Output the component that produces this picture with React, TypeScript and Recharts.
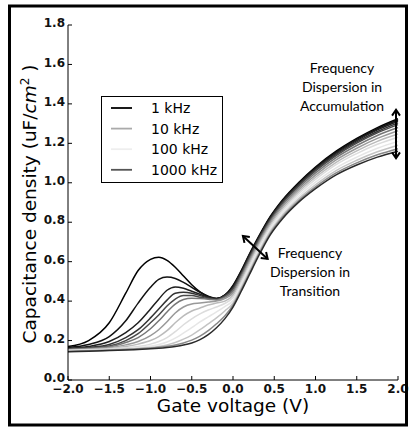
import React from 'react';
import { LineChart, Line, XAxis, YAxis, ReferenceLine } from 'recharts';

// gate voltage grid (V)
const X = [-2.0, -1.75, -1.5, -1.3, -1.15, -1.0, -0.9, -0.8, -0.7, -0.6, -0.5, -0.4, -0.3, -0.2, -0.1, 0.0, 0.1, 0.2, 0.3, 0.45, 0.6, 0.8, 1.0, 1.25, 1.5, 1.75, 2.0];

// capacitance density (uF/cm^2), one array per measurement frequency
const f1k = [0.17, 0.2, 0.29, 0.44, 0.555, 0.612, 0.623, 0.607, 0.572, 0.527, 0.483, 0.447, 0.423, 0.413, 0.43, 0.48, 0.555, 0.64, 0.719, 0.828, 0.913, 1.003, 1.08, 1.16, 1.225, 1.28, 1.325];
const f1_8k = [0.165, 0.18, 0.22, 0.3, 0.39, 0.47, 0.51, 0.522, 0.515, 0.495, 0.47, 0.445, 0.425, 0.413, 0.43, 0.476, 0.551, 0.636, 0.715, 0.824, 0.909, 0.999, 1.076, 1.155, 1.22, 1.274, 1.318];
const f3_2k = [0.16, 0.17, 0.195, 0.24, 0.29, 0.36, 0.41, 0.455, 0.472, 0.465, 0.45, 0.435, 0.42, 0.412, 0.428, 0.471, 0.547, 0.632, 0.711, 0.821, 0.905, 0.995, 1.071, 1.15, 1.214, 1.268, 1.312];
const f5_6k = [0.158, 0.165, 0.18, 0.215, 0.255, 0.315, 0.36, 0.405, 0.44, 0.445, 0.44, 0.428, 0.417, 0.41, 0.426, 0.466, 0.541, 0.626, 0.707, 0.816, 0.901, 0.99, 1.066, 1.144, 1.207, 1.26, 1.304];
const f10k = [0.156, 0.162, 0.172, 0.2, 0.235, 0.29, 0.33, 0.375, 0.41, 0.428, 0.428, 0.42, 0.413, 0.408, 0.424, 0.46, 0.536, 0.621, 0.702, 0.811, 0.896, 0.985, 1.06, 1.138, 1.201, 1.253, 1.295];
const f18k = [0.155, 0.16, 0.168, 0.19, 0.215, 0.26, 0.3, 0.345, 0.385, 0.408, 0.415, 0.413, 0.41, 0.406, 0.42, 0.45, 0.527, 0.612, 0.693, 0.803, 0.887, 0.976, 1.05, 1.128, 1.189, 1.24, 1.28];
const f32k = [0.153, 0.157, 0.163, 0.178, 0.195, 0.225, 0.255, 0.295, 0.34, 0.37, 0.385, 0.39, 0.395, 0.4, 0.413, 0.44, 0.516, 0.601, 0.684, 0.794, 0.878, 0.966, 1.039, 1.116, 1.175, 1.225, 1.264];
const f56k = [0.152, 0.155, 0.16, 0.17, 0.182, 0.2, 0.22, 0.25, 0.29, 0.325, 0.35, 0.365, 0.38, 0.39, 0.4, 0.43, 0.506, 0.591, 0.674, 0.784, 0.868, 0.956, 1.028, 1.104, 1.162, 1.21, 1.247];
const f100k = [0.15, 0.153, 0.157, 0.163, 0.17, 0.182, 0.195, 0.215, 0.245, 0.28, 0.31, 0.335, 0.355, 0.37, 0.388, 0.418, 0.495, 0.58, 0.665, 0.775, 0.859, 0.946, 1.017, 1.092, 1.148, 1.195, 1.231];
const f180k = [0.148, 0.151, 0.155, 0.159, 0.164, 0.172, 0.18, 0.193, 0.212, 0.238, 0.265, 0.295, 0.32, 0.345, 0.372, 0.403, 0.482, 0.567, 0.649, 0.763, 0.847, 0.933, 1.003, 1.076, 1.13, 1.175, 1.21];
const f320k = [0.146, 0.149, 0.153, 0.157, 0.16, 0.165, 0.17, 0.178, 0.19, 0.207, 0.228, 0.255, 0.285, 0.315, 0.35, 0.39, 0.469, 0.554, 0.637, 0.752, 0.835, 0.921, 0.99, 1.062, 1.114, 1.157, 1.19];
const f560k = [0.145, 0.148, 0.151, 0.155, 0.158, 0.162, 0.166, 0.171, 0.178, 0.188, 0.202, 0.222, 0.25, 0.285, 0.325, 0.379, 0.458, 0.543, 0.628, 0.742, 0.826, 0.911, 0.979, 1.05, 1.101, 1.142, 1.173];
const f1000k = [0.143, 0.146, 0.149, 0.152, 0.155, 0.158, 0.161, 0.165, 0.17, 0.177, 0.188, 0.205, 0.23, 0.265, 0.31, 0.37, 0.45, 0.535, 0.62, 0.735, 0.818, 0.903, 0.97, 1.04, 1.09, 1.13, 1.16];

const SERIES = [
  { key: 'f1k', values: f1k, color: '#000000' },
  { key: 'f1_8k', values: f1_8k, color: '#111111' },
  { key: 'f3_2k', values: f3_2k, color: '#1e1e1e' },
  { key: 'f5_6k', values: f5_6k, color: '#333333' },
  { key: 'f10k', values: f10k, color: '#4a4a4a' },
  { key: 'f18k', values: f18k, color: '#777777' },
  { key: 'f32k', values: f32k, color: '#999999' },
  { key: 'f56k', values: f56k, color: '#bbbbbb' },
  { key: 'f100k', values: f100k, color: '#dcdcdc' },
  { key: 'f180k', values: f180k, color: '#e6e6e6' },
  { key: 'f320k', values: f320k, color: '#c4c4c4' },
  { key: 'f560k', values: f560k, color: '#888888' },
  { key: 'f1000k', values: f1000k, color: '#2a2a2a' },
];

const X_TICKS = [-2, -1.5, -1, -0.5, 0, 0.5, 1, 1.5, 2];
const Y_TICKS = [0, 0.2, 0.4, 0.6, 0.8, 1.0, 1.2, 1.4, 1.6, 1.8];

const LEGEND_LABELS = ['1 kHz', '10 kHz', '100 kHz', '1000 kHz'];
const LEGEND_COLORS = ['#000000', '#aaaaaa', '#eeeeee', '#555555'];

const rows = X.map((x, i) => {
  const r: any = { x };
  SERIES.forEach(s => { r[s.key] = s.values[i]; });
  return r;
});

const fmt = (v: number) => (v < 0 ? '\u2212' : '') + Math.abs(v).toFixed(1);

function DoubleArrow(props: any) {
  const { x1, y1, x2, y2 } = props;
  const a = Math.atan2(y2 - y1, x2 - x1);
  const head = (x: number, y: number, ang: number) => {
    const s = 7, w = 0.6;
    return `M${x + s * Math.cos(ang + w)},${y + s * Math.sin(ang + w)} L${x},${y} L${x + s * Math.cos(ang - w)},${y + s * Math.sin(ang - w)}`;
  };
  return (
    <g>
      <line x1={x1} y1={y1} x2={x2} y2={y2} stroke="#000" strokeWidth={2} />
      <path d={head(x1, y1, a)} stroke="#000" strokeWidth={2} fill="none" />
      <path d={head(x2, y2, a + Math.PI)} stroke="#000" strokeWidth={2} fill="none" />
    </g>
  );
}

const tickStyle = { fontFamily: 'DejaVu Sans', fontSize: 12, fontWeight: 'bold', fill: '#111' };
const yTickStyle = { ...tickStyle, dy: -2 };
const noteStyle: any = { fontFamily: 'Lato', fontSize: 14, fill: '#000', textAnchor: 'middle' };

export default function App() {
  return (
    <div style={{ position: 'fixed', left: 0, top: 0, width: 409, height: 428, background: '#fff' }}>
      <LineChart width={409} height={428} data={rows} margin={{ top: 25, right: 11, left: 0, bottom: 0 }}>
        <XAxis dataKey="x" type="number" domain={[-2, 2]} ticks={X_TICKS} tickFormatter={fmt}
          height={48} tickSize={-4} tickMargin={8} stroke="#000" tick={tickStyle} interval={0} />
        <XAxis xAxisId="top" dataKey="x" type="number" orientation="top" domain={[-2, 2]} ticks={X_TICKS}
          height={0} tickSize={-4} tick={false} stroke="#000" />
        <YAxis type="number" domain={[0, 1.8]} ticks={Y_TICKS} tickFormatter={fmt} width={68}
          tickSize={-4} tickMargin={7} stroke="#000" tick={yTickStyle} interval={0} />
        <YAxis yAxisId="right" type="number" orientation="right" domain={[0, 1.8]} ticks={Y_TICKS}
          width={0} tickSize={-4} tick={false} stroke="#000" />
        {SERIES.map(s => (
          <Line key={s.key} dataKey={s.key} type="monotone" stroke={s.color} strokeWidth={1.5}
            dot={false} isAnimationActive={false} />
        ))}
        <ReferenceLine segment={[{ x: 1.976, y: 1.37 }, { x: 1.976, y: 1.125 }]} shape={DoubleArrow} />
        <ReferenceLine segment={[{ x: 0.12, y: 0.73 }, { x: 0.42, y: 0.614 }]} shape={DoubleArrow} />
      </LineChart>
      <svg width={409} height={428} style={{ position: 'absolute', left: 0, top: 0, pointerEvents: 'none' }}>
        <rect x={9.5} y={6} width={397} height={419} fill="none" stroke="#000" strokeWidth={3} />
        <text x={233} y={412} textAnchor="middle" fontFamily="DejaVu Sans" fontSize={18.5} fill="#000">Gate voltage (V)</text>
        <text transform="translate(36,204) rotate(-90)" textAnchor="middle" fontFamily="DejaVu Sans" fontSize={18.5} fill="#000">
          Capacitance density (uF/<tspan fontStyle="italic">cm</tspan><tspan dy={-7} fontSize={12}>2</tspan><tspan dy={7}> )</tspan>
        </text>
        <text style={noteStyle} x={342} y={73}>Frequency</text>
        <text style={noteStyle} x={342} y={92}>Dispersion in</text>
        <text style={noteStyle} x={342} y={111}>Accumulation</text>
        <text style={noteStyle} x={310} y={258}>Frequency</text>
        <text style={noteStyle} x={310} y={277}>Dispersion in</text>
        <text style={noteStyle} x={310} y={296}>Transition</text>
        <rect x={101.5} y={96.5} width={121} height={86} fill="#fff" stroke="#000" strokeWidth={1} />
        {LEGEND_LABELS.map((lab, i) => (
          <g key={lab}>
            <line x1={111} x2={132} y1={108 + i * 20.6} y2={108 + i * 20.6} stroke={LEGEND_COLORS[i]} strokeWidth={1.8} />
            <text x={151} y={113 + i * 20.6} fontFamily="DejaVu Sans" fontSize={14} fill="#000">{lab}</text>
          </g>
        ))}
      </svg>
    </div>
  );
}
